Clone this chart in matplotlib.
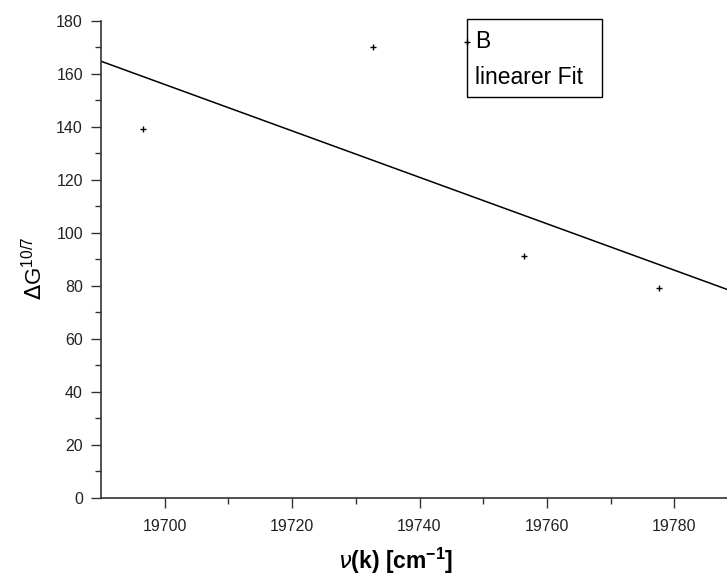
import matplotlib
matplotlib.use("Agg")
import matplotlib.pyplot as plt

# measured points (B)
nu_k = [19696.6, 19732.7, 19756.4, 19777.6]
delta_g = [139.0, 170.0, 91.3, 79.0]

# linear fit, end points
fit_x = [19690.0, 19790.0]
fit_y = [164.7, 77.1]

x_ticks = [19700, 19720, 19740, 19760, 19780]
y_ticks = [0, 20, 40, 60, 80, 100, 120, 140, 160, 180]

plt.rcParams["font.family"] = ["Liberation Sans", "DejaVu Sans"]

fig = plt.figure(figsize=(7.27, 5.81), dpi=100)
# axes run slightly past the right edge, as in the original export
x0, x1 = 19690, 19790
left = 101 / 727
px_per_unit = 6.37
width = (x1 - x0) * px_per_unit / 727
ax = fig.add_axes([left, 83.3 / 581, width, 477 / 581])

ax.plot(fit_x, fit_y, color="black", linewidth=1.1)
ax.plot(nu_k, delta_g, linestyle="none", marker="+", markersize=5,
        markeredgewidth=1.0, color="black")

ax.set_xlim(x0, x1)
ax.set_ylim(0, 180)
ax.set_xticks(x_ticks)
ax.set_yticks(y_ticks)
ax.set_xticks([19710, 19730, 19750, 19770, 19790], minor=True)
ax.set_yticks([10, 30, 50, 70, 90, 110, 130, 150, 170], minor=True)
ax.tick_params(which="major", direction="out", length=7, width=1.0,
               labelsize=11.5, pad=8, color="#333333", labelcolor="#222222")
ax.tick_params(which="minor", direction="out", length=4.5, width=1.0,
               color="#333333")
ax.tick_params(axis="y", pad=6)

for side in ("top", "right"):
    ax.spines[side].set_visible(False)
for side in ("left", "bottom"):
    ax.spines[side].set_linewidth(1.2)
    ax.spines[side].set_color("#333333")

fig.text(396 / 727, 1 - 561 / 581, r"$\nu$(k) [cm$^{\mathregular{-1}}$]",
         fontsize=16.5, fontweight="bold", ha="center", va="center")
fig.text(35 / 727, 1 - 268 / 581, r"$\Delta$G$^{\mathregular{10/7}}$",
         fontsize=16, rotation=90, ha="center", va="center")

# legend box drawn as in the original (symbol sits on the frame)
fig.patches.append(plt.Rectangle((467 / 727, 1 - 97.3 / 581), 135 / 727, 78 / 581,
                                 transform=fig.transFigure, fill=False,
                                 edgecolor="black", linewidth=1.0))
fig.lines.append(plt.Line2D([467 / 727], [1 - 41.7 / 581], marker="+",
                            markersize=5, markeredgewidth=1.0, color="black",
                            transform=fig.transFigure))
fig.text(475 / 727, 1 - 42 / 581, "B", fontsize=16.5, va="center", ha="left")
fig.text(475 / 727, 1 - 77 / 581, "linearer Fit", fontsize=16.5, va="center",
         ha="left")

fig.savefig("out.png", dpi=100)
